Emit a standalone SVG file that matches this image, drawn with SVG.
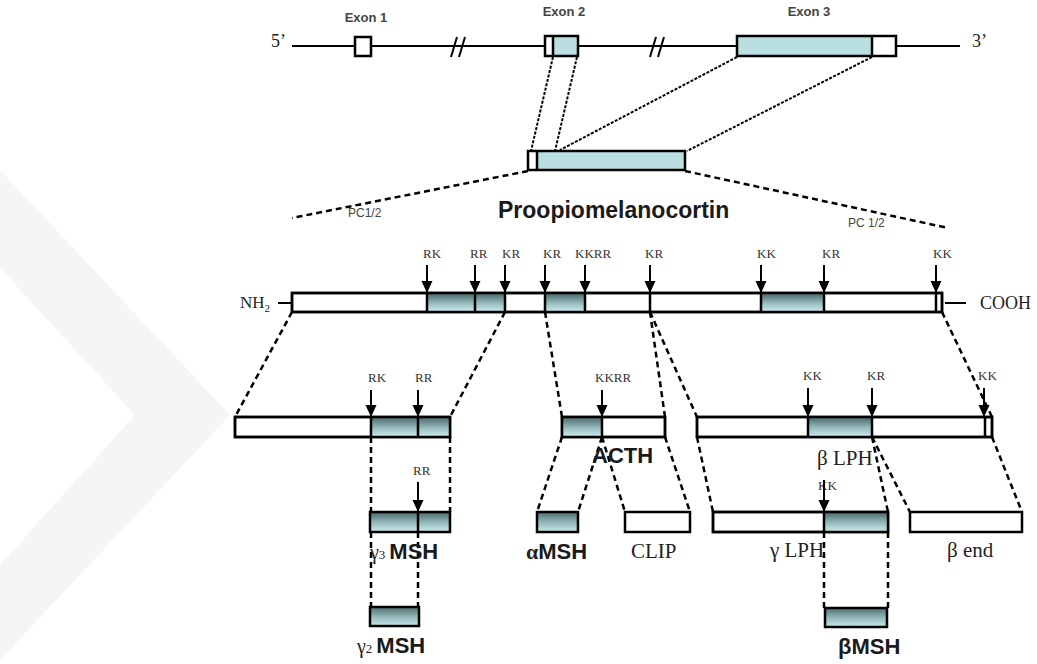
<svg xmlns="http://www.w3.org/2000/svg" width="1037" height="664" viewBox="0 0 1037 664">
<style>
.bar{fill:#fff;stroke:#000;stroke-width:2.5}
.ol{fill:none;stroke:#000;stroke-width:2.5}
.sh{fill:url(#grad);stroke:none}
.ex{fill:#b9dfe1;stroke:none}
.div{stroke:#000;stroke-width:2.5}
.ln{stroke:#000;stroke-width:2;fill:none}
.dash{stroke:#000;stroke-width:2.5;stroke-dasharray:6,4;fill:none}
.dot{stroke:#000;stroke-width:2;stroke-dasharray:3,1.5;fill:none}
.arr{stroke:#000;stroke-width:2;marker-end:url(#ah)}
.cs{font-family:"Liberation Serif","Times New Roman",serif;font-size:13px;fill:#333}
.sv{font-family:"Liberation Serif","Times New Roman",serif;fill:#222}
.sb{font-family:"Liberation Sans",Arial,sans-serif;font-weight:bold;fill:#1a1a1a}
.ex-l{font-family:"Liberation Sans",Arial,sans-serif;font-weight:bold;font-size:13px;fill:#444}
.pc{font-family:"Liberation Sans",Arial,sans-serif;font-size:12px;fill:#444}
</style>
<defs>
<linearGradient id="grad" x1="0" y1="0" x2="0" y2="1">
<stop offset="0" stop-color="#4f6e6f"/>
<stop offset="0.55" stop-color="#97bcbe"/>
<stop offset="1" stop-color="#c8e7e9"/>
</linearGradient>
<marker id="ah" markerUnits="userSpaceOnUse" markerWidth="12" markerHeight="12" refX="12" refY="5.5" orient="auto">
<path d="M0,0 L12,5.5 L0,11 z" fill="#000"/>
</marker>
</defs>
<rect width="1037" height="664" fill="#fff"/>
<polygon points="0,170 230,415 0,660 0,565 135,415 0,268" fill="#f5f5f5"/>

<g id="connectors">
<path class="dot" d="M553,57 L531,151 M577,57 L555,151 M737,57 L560,150 M872,57 L687,151"/>
<path class="dash" d="M528,171 L292,218 M685,171 L948,228"/>
<path class="dash" d="M292,312 L235,417 M505,312 L450,417 M545,312 L562,417 M650,312 L665,417 M650,312 L697,417 M942,312 L992,417"/>
<path class="dash" d="M371,437 L371,512 M450,437 L450,512 M562,437 L537,512 M602,437 L578,512 M602,437 L625,512 M665,437 L690,512 M697,437 L713,512 M872,437 L888,512 M872,437 L910,512 M992,437 L1022,512"/>
<path class="dash" d="M371,532 L371,607 M418,532 L418,607 M824,532 L824,608 M888,532 L888,608"/>
</g>

<g id="gene">
<path class="ln" d="M292,46 H960"/>
<path class="ln" d="M451,57 L457,37 M459,57 L465,37 M650,57 L656,37 M658,57 L664,37"/>
<text class="sv" x="271" y="47" font-size="18">5’</text>
<text class="sv" x="972" y="47" font-size="18">3’</text>
</g>
<g id="exon1">
<rect class="bar" x="355" y="37" width="16" height="19" stroke-width="2"/>
<text class="ex-l" x="366" y="22" text-anchor="middle">Exon 1</text>
</g>
<g id="exon2">
<rect x="545" y="36" width="33" height="20" fill="#fff"/>
<rect class="ex" x="553" y="36" width="25" height="20"/>
<rect class="ol" x="545" y="36" width="33" height="20" stroke-width="2"/>
<line class="div" x1="553" y1="36" x2="553" y2="56" stroke-width="2"/>
<text class="ex-l" x="564" y="16" text-anchor="middle">Exon 2</text>
</g>
<g id="exon3">
<rect x="737" y="36" width="159" height="20" fill="#fff"/>
<rect class="ex" x="737" y="36" width="135" height="20"/>
<rect class="ol" x="737" y="36" width="159" height="20" stroke-width="2"/>
<line class="div" x1="872" y1="36" x2="872" y2="56" stroke-width="2"/>
<text class="ex-l" x="809" y="16" text-anchor="middle">Exon 3</text>
</g>

<g id="mrna">
<rect x="528" y="151" width="157" height="19" fill="#fff"/>
<rect class="ex" x="537" y="151" width="148" height="19"/>
<rect class="ol" x="528" y="151" width="157" height="19"/>
<line class="div" x1="537" y1="151" x2="537" y2="170"/>
<text class="pc" x="348" y="217">PC1/2</text>
<text class="pc" x="848" y="227">PC 1/2</text>
<text class="sb" x="498" y="218" font-size="23">Proopiomelanocortin</text>
</g>

<g id="pomc">
<path class="ln" d="M278,303 H292 M945,303 H966"/>
<text class="sv" x="240" y="308" font-size="17">NH<tspan font-size="11" dy="4">2</tspan></text>
<text class="sv" x="980" y="309" font-size="18">COOH</text>
<rect class="bar" x="292" y="293" width="650" height="19"/>
<rect class="sh" x="427" y="294" width="78" height="17"/>
<rect class="sh" x="545" y="294" width="40" height="17"/>
<rect class="sh" x="761" y="294" width="63" height="17"/>
<rect class="ol" x="292" y="293" width="650" height="19"/>
<path class="div" d="M427,293V312 M475,293V312 M505,293V312 M545,293V312 M585,293V312 M650,293V312 M761,293V312 M824,293V312 M936,293V312"/>
<line class="arr" x1="427" y1="265" x2="427" y2="293"/>
<line class="arr" x1="475" y1="265" x2="475" y2="293"/>
<line class="arr" x1="505" y1="265" x2="505" y2="293"/>
<line class="arr" x1="545" y1="265" x2="545" y2="293"/>
<line class="arr" x1="585" y1="265" x2="585" y2="293"/>
<line class="arr" x1="650" y1="265" x2="650" y2="293"/>
<line class="arr" x1="761" y1="265" x2="761" y2="293"/>
<line class="arr" x1="824" y1="265" x2="824" y2="293"/>
<line class="arr" x1="936" y1="265" x2="936" y2="293"/>
<text class="cs" x="423" y="258">RK</text>
<text class="cs" x="470" y="258">RR</text>
<text class="cs" x="502" y="258">KR</text>
<text class="cs" x="543" y="258">KR</text>
<text class="cs" x="575" y="258">KKRR</text>
<text class="cs" x="645" y="258">KR</text>
<text class="cs" x="757" y="258">KK</text>
<text class="cs" x="822" y="258">KR</text>
<text class="cs" x="933" y="258">KK</text>
</g>

<g id="nterm">
<rect class="bar" x="235" y="417" width="215" height="20"/>
<rect class="sh" x="371" y="418" width="79" height="18"/>
<rect class="ol" x="235" y="417" width="215" height="20"/>
<path class="div" d="M371,417V437 M418,417V437"/>
<line class="arr" x1="371" y1="390" x2="371" y2="417"/>
<line class="arr" x1="418" y1="390" x2="418" y2="417"/>
<text class="cs" x="368" y="382">RK</text>
<text class="cs" x="415" y="382">RR</text>
</g>

<g id="acth">
<rect class="bar" x="562" y="417" width="103" height="20"/>
<rect class="sh" x="562" y="418" width="40" height="18"/>
<rect class="ol" x="562" y="417" width="103" height="20"/>
<path class="div" d="M602,417V437"/>
<line class="arr" x1="602" y1="390" x2="602" y2="417"/>
<text class="cs" x="595" y="382">KKRR</text>
<text class="sb" x="592" y="463" font-size="22">ACTH</text>
</g>

<g id="blph">
<rect class="bar" x="697" y="417" width="295" height="20"/>
<rect class="sh" x="808" y="418" width="64" height="18"/>
<rect class="ol" x="697" y="417" width="295" height="20"/>
<path class="div" d="M808,417V437 M872,417V437 M985,417V437"/>
<line class="arr" x1="808" y1="388" x2="808" y2="417"/>
<line class="arr" x1="872" y1="388" x2="872" y2="417"/>
<line class="arr" x1="984" y1="388" x2="984" y2="417"/>
<text class="cs" x="803" y="380">KK</text>
<text class="cs" x="867" y="380">KR</text>
<text class="cs" x="978" y="380">KK</text>
<text class="sv" x="817" y="465" font-size="21">β LPH</text>
</g>

<g id="g3msh">
<rect class="sh" x="370" y="513" width="80" height="18"/>
<rect class="ol" x="370" y="512" width="80" height="20"/>
<path class="div" d="M418,512V532"/>
<line class="arr" x1="418" y1="482" x2="418" y2="512"/>
<text class="cs" x="413" y="475" font-size="12">RR</text>
<text x="370" y="559"><tspan class="sv" font-size="20">γ</tspan><tspan class="sv" font-size="13">3</tspan><tspan class="sb" font-size="22" dx="4">MSH</tspan></text>
</g>

<g id="amsh">
<rect class="sh" x="537" y="512" width="41" height="20"/>
<rect class="ol" x="537" y="512" width="41" height="20"/>
<text x="526" y="559"><tspan class="sv" font-weight="bold" font-size="22">α</tspan><tspan class="sb" font-size="22">MSH</tspan></text>
</g>

<g id="clip">
<rect class="bar" x="625" y="512" width="65" height="20"/>
<text class="sv" x="631" y="558" font-size="21">CLIP</text>
</g>

<g id="glph">
<rect class="bar" x="713" y="512" width="175" height="20"/>
<rect class="sh" x="824" y="513" width="64" height="18"/>
<rect class="ol" x="713" y="512" width="175" height="20"/>
<path class="div" d="M824,512V532"/>
<text class="cs" x="818" y="490" font-size="12">KK</text>
<line class="arr" x1="824" y1="480" x2="824" y2="512"/>
<text class="sv" x="770" y="557" font-size="21">γ LPH</text>
</g>

<g id="bend">
<rect class="bar" x="910" y="512" width="112" height="20"/>
<text class="sv" x="947" y="557" font-size="21">β end</text>
</g>

<g id="g2msh">
<rect class="sh" x="370" y="607" width="49" height="19"/>
<rect class="ol" x="370" y="607" width="49" height="19"/>
<text x="357" y="653"><tspan class="sv" font-size="20">γ</tspan><tspan class="sv" font-size="13">2</tspan><tspan class="sb" font-size="22" dx="4">MSH</tspan></text>
</g>

<g id="bmsh">
<rect class="sh" x="825" y="608" width="62" height="19"/>
<rect class="ol" x="825" y="608" width="62" height="19"/>
<text class="sb" x="838" y="654" font-size="22">βMSH</text>
</g>
</svg>
